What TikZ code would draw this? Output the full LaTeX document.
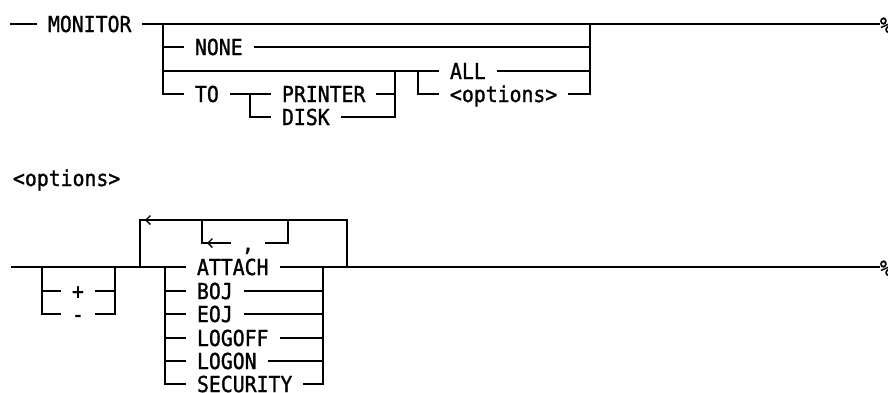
\documentclass[tikz,border=0pt]{standalone}
\usepackage{fontspec}
\newfontfamily\kwfont[FakeStretch=0.9,FakeBold=1.2]{DejaVu Sans Mono}
\usetikzlibrary{arrows.meta}
\tikzset{
  kw/.style={font=\kwfont\fontsize{22}{22}\selectfont, inner xsep=1pt, inner ysep=0pt,
    outer xsep=10pt, outer ysep=0pt, text height=16pt, text depth=0pt, anchor=west},
  lbl/.style={kw, outer xsep=0pt},
  endmark/.style={kw, outer xsep=0pt, inner xsep=0pt},
  loopar/.style={-{Straight Barb[length=4.5pt,width=9pt,line width=1.3pt]}}
}
\begin{document}
\begin{tikzpicture}[x=1pt,y=-1pt,line width=1.3pt]
\useasboundingbox (0,0) rectangle (888,392);
% ---------------- top diagram ----------------
\coordinate (a0) at (10,24);
\coordinate (aEnd) at (880,24);
\node[kw] (monitor) at (37,24) {MONITOR};
\node[endmark] (pct1) at (880,25) {\%};
\draw (a0) -- (monitor.west);
\draw (monitor.east) -- (aEnd);
\coordinate (aL0) at (163,24); \coordinate (aL1) at (163,47);
\coordinate (aL2) at (163,71); \coordinate (aL3) at (163,94);
\coordinate (aR0) at (590,24); \coordinate (aR1) at (590,47);
\coordinate (aR2) at (590,71); \coordinate (aR3) at (590,94);
\node[kw] (none) at (184,47) {NONE};
\node[kw] (all) at (439,71) {ALL};
\node[kw] (to) at (184,94) {TO};
\node[kw] (printer) at (271,94) {PRINTER};
\node[kw] (disk) at (271,117) {DISK};
\node[kw] (opts) at (439,94) {<options>};
\draw (aL0) -- (aL3) -- (to.west);
\draw (aL1) -- (none.west);
\draw (none.east) -- (aR1);
\draw (aL2) -- (all.west);
\draw (all.east) -- (aR2);
\draw (opts.east) -- (aR3) -- (aR0);
\coordinate (pL0) at (250,94); \coordinate (pL1) at (250,117);
\coordinate (pR0) at (395,71); \coordinate (pR1) at (395,94); \coordinate (pR2) at (395,117);
\draw (to.east) -- (printer.west);
\draw (pL0) -- (pL1) -- (disk.west);
\draw (printer.east) -- (pR1);
\draw (disk.east) -- (pR2) -- (pR0);
\coordinate (oL0) at (418,71); \coordinate (oL1) at (418,94);
\draw (oL0) -- (oL1) -- (opts.west);
% ---------------- bottom diagram ----------------
\node[lbl] (head) at (12,178) {<options>};
\coordinate (b0) at (11,267);
\coordinate (bEnd) at (880,267);
\node[endmark] (pct2) at (880,268) {\%};
% sign group
\coordinate (sL0) at (42,267); \coordinate (sL1) at (42,291); \coordinate (sL2) at (42,314);
\coordinate (sR0) at (115,267); \coordinate (sR1) at (115,291); \coordinate (sR2) at (115,314);
\node[kw] (plus) at (61,291) {+};
\node[kw] (minus) at (61,314) {-};
\draw (sL0) -- (sL2) -- (minus.west);
\draw (sL1) -- (plus.west);
\draw (plus.east) -- (sR1);
\draw (minus.east) -- (sR2) -- (sR0);
% repeat loop
\coordinate (lpL0) at (140,267); \coordinate (lpL1) at (140,220);
\coordinate (lpR1) at (347,220); \coordinate (lpR0) at (347,267);
\draw (lpL0) -- (lpL1) -- (lpR1) -- (lpR0);
\coordinate (ar1a) at (160,220); \coordinate (ar1b) at (145,220);
\draw[loopar] (ar1a) -- (ar1b);
\coordinate (inL0) at (202,220); \coordinate (inL1) at (202,243);
\coordinate (inR0) at (288,220); \coordinate (inR1) at (288,243);
\node[kw] (comma) at (231,243) {,};
\draw (inR0) -- (inR1) -- (comma.east);
\draw (comma.west) -- (inL1) -- (inL0);
\coordinate (ar2a) at (220,243); \coordinate (ar2b) at (207,243);
\draw[loopar] (ar2a) -- (ar2b);
% choices
\coordinate (cL0) at (165,267); \coordinate (cL1) at (165,291); \coordinate (cL2) at (165,314);
\coordinate (cL3) at (165,338); \coordinate (cL4) at (165,361); \coordinate (cL5) at (165,384);
\coordinate (cR0) at (323,267); \coordinate (cR1) at (323,291); \coordinate (cR2) at (323,314);
\coordinate (cR3) at (323,338); \coordinate (cR4) at (323,361); \coordinate (cR5) at (323,384);
\node[kw] (attach) at (186,267) {ATTACH};
\node[kw] (boj) at (186,291) {BOJ};
\node[kw] (eoj) at (186,314) {EOJ};
\node[kw] (logoff) at (186,338) {LOGOFF};
\node[kw] (logon) at (186,361) {LOGON};
\node[kw] (security) at (186,384) {SECURITY};
\draw (b0) -- (attach.west);
\draw (attach.east) -- (bEnd);
\draw (cL0) -- (cL5) -- (security.west);
\draw (cL1) -- (boj.west);
\draw (cL2) -- (eoj.west);
\draw (cL3) -- (logoff.west);
\draw (cL4) -- (logon.west);
\draw (boj.east) -- (cR1);
\draw (eoj.east) -- (cR2);
\draw (logoff.east) -- (cR3);
\draw (logon.east) -- (cR4);
\draw (security.east) -- (cR5) -- (cR0);
\end{tikzpicture}
\end{document}
